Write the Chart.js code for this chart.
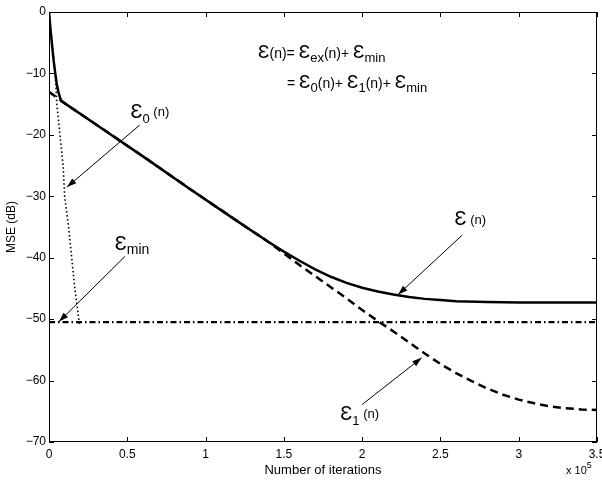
<!DOCTYPE html>
<html>
<head>
<meta charset="utf-8">
<script src="https://cdn.jsdelivr.net/npm/chart.js@4/dist/chart.umd.min.js"></script>
<style>
  html, body { margin: 0; padding: 0; background: #fff; }
</style>
</head>
<body>
<canvas id="mse" width="602" height="481"></canvas>
<script>
// x in units of 1e5 iterations, y in dB
const xTicks = [0, 0.5, 1, 1.5, 2, 2.5, 3, 3.5];
const yTicks = [-70, -60, -50, -40, -30, -20, -10, 0];

// total MSE  e(n)
const totalX = [0, 0.01, 0.02, 0.03, 0.04, 0.05, 0.06, 0.07, 0.08, 0.3, 0.6, 0.9, 1.2, 1.4, 1.5, 1.6, 1.7, 1.8, 1.9, 2.0, 2.1, 2.2, 2.3, 2.4, 2.5, 2.6, 2.8, 3.0, 3.2, 3.5];
const totalY = [0, -3, -5.5, -8, -10, -11.8, -13, -13.9, -14.5, -18.3, -23.5, -28.8, -34.0, -37.4, -39.0, -40.5, -41.9, -43.1, -44.1, -44.9, -45.5, -46.0, -46.4, -46.7, -46.9, -47.1, -47.2, -47.3, -47.3, -47.3];

// slow mode  e1(n)
const slowX = [0, 0.08, 0.3, 0.6, 0.9, 1.2, 1.4, 1.5, 1.6, 1.7, 1.8, 1.9, 2.0, 2.1, 2.2, 2.3, 2.4, 2.5, 2.6, 2.7, 2.8, 2.9, 3.0, 3.1, 3.2, 3.3, 3.4, 3.5];
const slowY = [-13, -14.5, -18.3, -23.5, -28.8, -34.0, -37.4, -39.3, -41.2, -43.0, -44.8, -46.6, -48.5, -50.3, -52.0, -53.8, -55.6, -57.3, -58.8, -60.1, -61.3, -62.3, -63.1, -63.7, -64.2, -64.5, -64.7, -64.8];

// fast mode  e0(n)
const fastX = [0, 0.02, 0.04, 0.05, 0.07, 0.09, 0.1, 0.125, 0.145, 0.165, 0.185, 0.195];
const fastY = [0, -5, -10, -15, -20, -25, -30, -35, -40, -45, -49, -51];

// minimum MSE
const minX = [0, 3.5];
const minY = [-50.5, -50.5];

const EPS = '\u0190';
const FONT = "'Liberation Sans', Arial, Helvetica, sans-serif";

// text labels: [text, size, baseline shift]
const labels = [
  { x: 1.335, y: -7.5, parts: [[EPS, 19, 0], ['(n)= ', 14, 0], [EPS, 19, 0], ['ex', 13, 4], ['(n)+ ', 14, 0], [EPS, 19, 0], ['min', 13, 4]] },
  { x: 1.52, y: -12.4, parts: [['= ', 14, 0], [EPS, 19, 0], ['0', 13, 4], ['(n)+ ', 14, 0], [EPS, 19, 0], ['1', 13, 4], ['(n)+ ', 14, 0], [EPS, 19, 0], ['min', 13, 4]] },
  { x: 0.52, y: -17.2, parts: [[EPS, 20, 0], ['0', 13, 5], [' (n)', 13, -2]] },
  { x: 0.42, y: -38.8, parts: [[EPS, 20, 0], ['min', 14, 4]] },
  { x: 2.59, y: -34.6, parts: [[EPS, 20, 0], [' (n)', 13, -1]] },
  { x: 1.86, y: -66.4, parts: [[EPS, 20, 0], ['1', 13, 5], [' (n)', 13, -2]] }
];

// arrows: from -> to
const arrows = [
  { x0: 0.58, y0: -18.4, x1: 0.115, y1: -28.5 },
  { x0: 0.485, y0: -39.8, x1: 0.064, y1: -50.4 },
  { x0: 2.64, y0: -36.3, x1: 2.23, y1: -46.0 },
  { x0: 2.0, y0: -63.9, x1: 2.38, y1: -56.3 }
];

function pts(xs, ys) {
  return xs.map((x, i) => ({ x, y: ys[i] }));
}

function drawRich(ctx, x, y, parts) {
  let cx = x;
  parts.forEach(([t, size, shift]) => {
    ctx.font = size + 'px ' + FONT;
    ctx.fillText(t, cx, y + shift);
    cx += ctx.measureText(t).width;
  });
}

const frame = {
  id: 'frame',
  afterDatasetsDraw(chart) {
    const { ctx, chartArea: a, scales: { x, y } } = chart;
    ctx.save();
    ctx.strokeStyle = '#000';
    ctx.lineWidth = 1;
    ctx.strokeRect(a.left + 0.5, a.top + 0.5, a.right - a.left - 1, a.bottom - a.top - 1);
    // inward ticks on all sides
    ctx.beginPath();
    xTicks.forEach(v => {
      const px = Math.round(x.getPixelForValue(v)) + 0.5;
      ctx.moveTo(px, a.bottom); ctx.lineTo(px, a.bottom - 5);
      ctx.moveTo(px, a.top); ctx.lineTo(px, a.top + 5);
    });
    yTicks.forEach(v => {
      const py = Math.round(y.getPixelForValue(v)) + 0.5;
      ctx.moveTo(a.left, py); ctx.lineTo(a.left + 5, py);
      ctx.moveTo(a.right, py); ctx.lineTo(a.right - 5, py);
    });
    ctx.stroke();

    // arrows
    ctx.fillStyle = '#000';
    arrows.forEach(ar => {
      const x0 = x.getPixelForValue(ar.x0), y0 = y.getPixelForValue(ar.y0);
      const x1 = x.getPixelForValue(ar.x1), y1 = y.getPixelForValue(ar.y1);
      const ang = Math.atan2(y1 - y0, x1 - x0);
      ctx.beginPath();
      ctx.moveTo(x0, y0); ctx.lineTo(x1, y1);
      ctx.stroke();
      ctx.beginPath();
      ctx.moveTo(x1, y1);
      ctx.lineTo(x1 - 10 * Math.cos(ang - 0.32), y1 - 10 * Math.sin(ang - 0.32));
      ctx.lineTo(x1 - 10 * Math.cos(ang + 0.32), y1 - 10 * Math.sin(ang + 0.32));
      ctx.closePath();
      ctx.fill();
    });

    // labels
    ctx.textBaseline = 'alphabetic';
    ctx.textAlign = 'left';
    labels.forEach(l => drawRich(ctx, x.getPixelForValue(l.x), y.getPixelForValue(l.y), l.parts));

    // exponent
    drawRich(ctx, 566, 474, [['x 10', 11, 0], ['5', 9, -6]]);
    ctx.restore();
  }
};

new Chart(document.getElementById('mse'), {
  type: 'line',
  data: {
    datasets: [
      { data: pts(minX, minY), borderColor: '#000', borderWidth: 2.2, borderDash: [6, 3, 1.5, 3] },
      { data: pts(fastX, fastY), borderColor: '#000', borderWidth: 1.6, borderDash: [1.5, 2.5] },
      { data: pts(slowX, slowY), borderColor: '#000', borderWidth: 2.5, borderDash: [8, 5] },
      { data: pts(totalX, totalY), borderColor: '#000', borderWidth: 2.5 }
    ]
  },
  options: {
    responsive: false,
    animation: false,
    devicePixelRatio: 1,
    elements: { point: { radius: 0 }, line: { tension: 0 } },
    layout: { padding: { top: 12, right: 5, left: 4, bottom: 0 } },
    plugins: { legend: { display: false }, tooltip: { enabled: false } },
    scales: {
      x: {
        type: 'linear', min: 0, max: 3.5,
        afterBuildTicks: s => { s.ticks = xTicks.map(v => ({ value: v })); },
        afterFit: s => { s.height = 39; s.paddingLeft = 0; s.paddingRight = 0; },
        grid: { display: false, drawTicks: false },
        border: { display: false },
        ticks: { color: '#000', font: { family: FONT, size: 12 }, padding: 5, maxRotation: 0, callback: v => String(v) },
        title: { display: true, text: 'Number of iterations', color: '#000', font: { family: FONT, size: 13 }, padding: { top: 0, bottom: 3 } }
      },
      y: {
        type: 'linear', min: -70, max: 0,
        afterBuildTicks: s => { s.ticks = yTicks.map(v => ({ value: v })); },
        afterFit: s => { s.width = 45; s.paddingTop = 0; s.paddingBottom = 0; },
        grid: { display: false, drawTicks: false },
        border: { display: false },
        ticks: { color: '#000', font: { family: FONT, size: 12 }, padding: 3, callback: v => String(v).replace('-', '\u2212') },
        title: { display: true, text: 'MSE (dB)', color: '#000', font: { family: FONT, size: 12 }, padding: { top: 0, bottom: 0 } }
      }
    }
  },
  plugins: [frame]
});
</script>
</body>
</html>
